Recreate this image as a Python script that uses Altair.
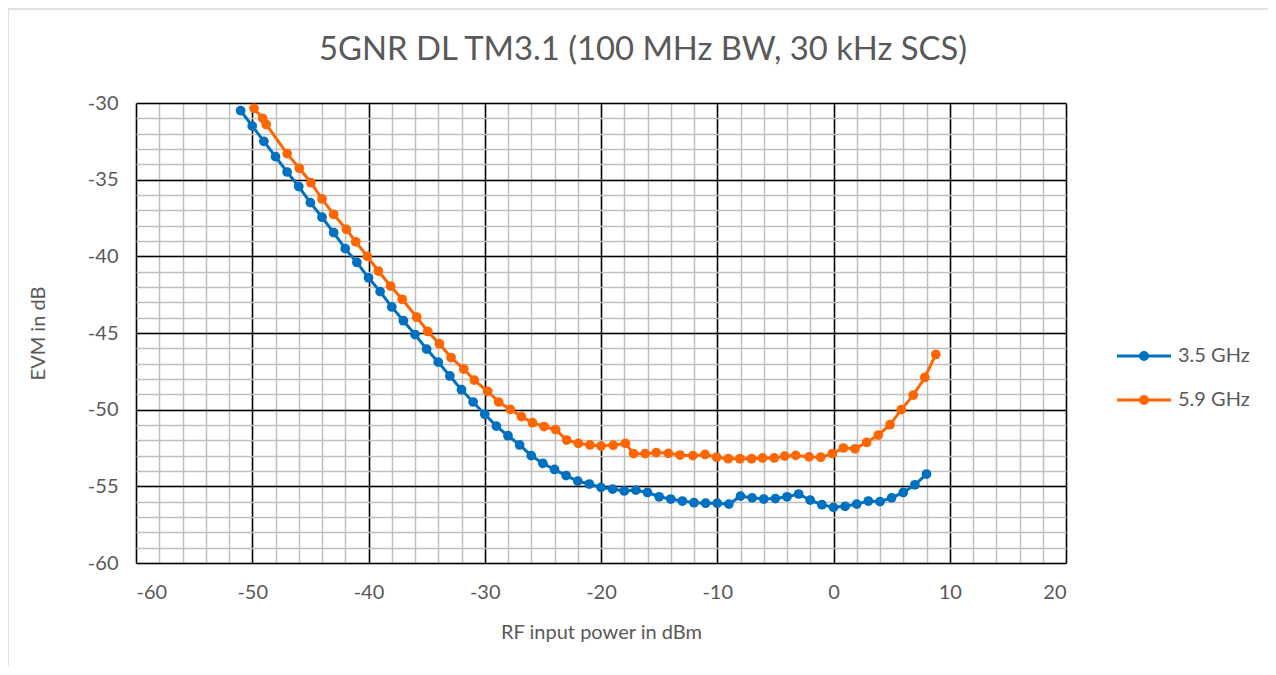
import altair as alt
import pandas as pd

# ---- data ----
blue_x = list(range(-51, 9))
blue_y = [-30.5, -31.5, -32.5, -33.5, -34.5, -35.45, -36.5, -37.45, -38.45, -39.5,
          -40.4, -41.4, -42.3, -43.3, -44.2, -45.1, -46.05, -46.9, -47.8, -48.7,
          -49.5, -50.3, -51.07, -51.7, -52.3, -53.0, -53.5, -53.9, -54.3, -54.66,
          -54.85, -55.07, -55.18, -55.3, -55.25, -55.4, -55.68, -55.83, -55.96, -56.07,
          -56.1, -56.1, -56.16, -55.64, -55.75, -55.83, -55.8, -55.68, -55.5, -55.9,
          -56.2, -56.37, -56.3, -56.16, -55.96, -56.0, -55.75, -55.4, -54.9, -54.2]

orange_x = [-49.85, -49.1, -48.8, -47.0, -45.95, -44.95, -44.0, -43.0, -41.9, -41.1,
            -40.1, -39.15, -38.1, -37.1, -35.85, -34.9, -33.9, -32.9, -31.8, -30.9,
            -29.75, -28.8, -27.8, -26.85, -25.9, -24.9, -23.9, -22.95, -21.95, -20.95,
            -20.0, -18.95, -17.9, -17.2, -16.2, -15.25, -14.2, -13.2, -12.1, -11.05,
            -10.05, -9.05, -8.05, -7.05, -6.1, -5.1, -4.2, -3.25, -2.1, -1.1,
            -0.1, 0.85, 1.85, 2.85, 3.85, 4.86, 5.83, 6.86, 7.86, 8.8]
orange_y = [-30.35, -31.0, -31.4, -33.3, -34.26, -35.2, -36.26, -37.26, -38.24, -39.05,
            -40.0, -40.96, -41.94, -42.8, -43.97, -44.9, -45.7, -46.6, -47.35, -48.07,
            -48.8, -49.5, -49.98, -50.45, -50.85, -51.1, -51.3, -51.98, -52.2, -52.3,
            -52.37, -52.32, -52.2, -52.87, -52.87, -52.8, -52.85, -52.96, -53.0, -52.92,
            -53.1, -53.2, -53.2, -53.2, -53.15, -53.15, -53.03, -52.98, -53.08, -53.1,
            -52.87, -52.5, -52.55, -52.14, -51.66, -50.98, -50.0, -49.05, -47.9, -46.4]

series_names = ["3.5 GHz", "5.9 GHz"]
series_colors = ["#0070C0", "#FF6600"]

x_major = list(range(-60, 21, 10))
x_minor = list(range(-60, 21, 2))
y_major = list(range(-60, -29, 5))
y_minor = list(range(-60, -29, 1))

df = pd.concat([
    pd.DataFrame({"x": blue_x, "y": blue_y, "series": series_names[0], "order": range(len(blue_x))}),
    pd.DataFrame({"x": orange_x, "y": orange_y, "series": series_names[1], "order": range(len(orange_x))}),
])

FONT = "Lato"
GREY = "#595959"

xscale = alt.Scale(domain=[-60, 20], nice=False, zero=False)
yscale = alt.Scale(domain=[-60, -30], nice=False, zero=False)
cscale = alt.Scale(domain=series_names, range=series_colors)

minor_x_axis = alt.Axis(values=x_minor, grid=True, gridColor="#BFBFBF", gridWidth=1.5,
                        labels=False, ticks=False, domain=False, title=None, orient="top")
minor_y_axis = alt.Axis(values=y_minor, grid=True, gridColor="#BFBFBF", gridWidth=1.5,
                        labels=False, ticks=False, domain=False, title=None, orient="right")
major_x_axis = alt.Axis(values=x_major, grid=True, gridColor="#000000", gridWidth=1.5,
                        ticks=False, domain=False, orient="bottom",
                        labelExpr="datum.value + ''",
                        labelFontSize=20, labelFont=FONT, labelColor=GREY, labelPadding=19,
                        title="RF input power in dBm", titleFontSize=20, titleFont=FONT,
                        titleColor=GREY, titleFontWeight="normal", titlePadding=20)
major_y_axis = alt.Axis(values=y_major, grid=True, gridColor="#000000", gridWidth=1.5,
                        ticks=False, domain=False, orient="left",
                        labelExpr="datum.value + ''",
                        labelFontSize=20, labelFont=FONT, labelColor=GREY, labelPadding=18,
                        title="EVM in dB", titleFontSize=20, titleFont=FONT,
                        titleColor=GREY, titleFontWeight="normal", titlePadding=39)

sym_path = ("M-5.4,0L5.4,0"
            "M-0.7,0A0.7,0.7,0,1,0,0.7,0A0.7,0.7,0,1,0,-0.7,0"
            "M-0.4,0A0.4,0.4,0,1,0,0.4,0A0.4,0.4,0,1,0,-0.4,0"
            "M-0.1,0A0.1,0.1,0,1,0,0.1,0A0.1,0.1,0,1,0,-0.1,0")

legend = alt.Legend(title=None, orient="none", legendX=998, legendY=243,
                    symbolType=sym_path, symbolSize=100, symbolStrokeWidth=3,
                    labelFontSize=20, labelFont=FONT, labelColor=GREY, labelOffset=24,
                    rowPadding=24)

lines = alt.Chart(df).mark_line(strokeWidth=3).encode(
    x=alt.X("x:Q", scale=xscale, axis=minor_x_axis),
    y=alt.Y("y:Q", scale=yscale, axis=minor_y_axis),
    color=alt.Color("series:N", scale=cscale, legend=legend),
    order="order:Q",
)

points = alt.Chart(df).mark_circle(size=95, opacity=1).encode(
    x=alt.X("x:Q", scale=xscale, axis=major_x_axis),
    y=alt.Y("y:Q", scale=yscale, axis=major_y_axis),
    color=alt.Color("series:N", scale=cscale, legend=None),
)

frame_df = pd.DataFrame({"k": [0]})
frame = alt.Chart(frame_df).mark_rect(fill=None, stroke="#D9D9D9", strokeWidth=1.5).encode(
    x=alt.value(-128), x2=alt.value(1133), y=alt.value(-94), y2=alt.value(565)
)

chart = alt.layer(lines, points, frame).resolve_axis(x="independent", y="independent").properties(
    width=930, height=460,
    autosize=alt.AutoSizeParams(type="none"),
    padding={"left": 128, "top": 95, "right": 202, "bottom": 104},
    title=alt.TitleParams("5GNR DL TM3.1 (100 MHz BW, 30 kHz SCS)", font=FONT, fontSize=32.8,
                          fontWeight="normal", color=GREY, anchor="middle", dx=42, offset=-59),
).configure_view(stroke="#000000", strokeWidth=2).configure(background="white")

chart.save("out.html", embed_options={"renderer": "svg", "actions": False})
